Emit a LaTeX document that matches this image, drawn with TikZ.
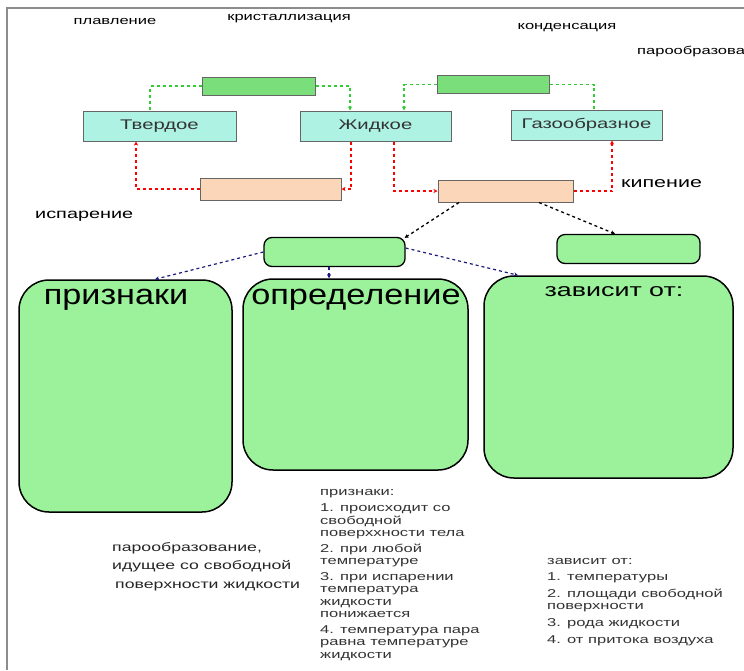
\documentclass[tikz,border=0pt]{standalone}
\usepackage{fontspec}
\setmainfont{Liberation Sans}
\newfontfamily\wide[FakeStretch=1.45]{Liberation Sans}
\newfontfamily\midwide[FakeStretch=1.2]{Liberation Sans}
\usetikzlibrary{arrows.meta}
\definecolor{topgreen}{HTML}{7ADF7A}
\definecolor{cyanbox}{HTML}{AEF2E4}
\definecolor{peach}{HTML}{FBD6B8}
\definecolor{biggreen}{HTML}{9BF29B}
\definecolor{navy}{HTML}{1A1A80}
\definecolor{framegray}{HTML}{8C8C8C}
\definecolor{gline}{HTML}{33CC33}
\tikzset{
  flat/.style={draw=gray!80!black, line width=1pt, inner sep=0pt, minimum width=#1},
  topbox/.style={flat=#1, fill=topgreen, minimum height=18pt},
  statebox/.style={flat=#1, fill=cyanbox, minimum height=30pt, font=\wide\fontsize{14}{16}\selectfont, text=black!80},
  peachbox/.style={flat=#1, fill=peach, minimum height=22pt},
  smallround/.style={draw=black, line width=1.3pt, fill=biggreen, rounded corners=8pt, inner sep=0pt, minimum width=#1, minimum height=29pt},
  biground/.style={draw=black, line width=1.5pt, fill=biggreen, rounded corners=30pt, inner sep=0pt},
  gdash/.style={draw=gline, dashed, line width=1.3pt},
  rdash/.style={draw=red, dashed, line width=1.3pt},
  kdash/.style={draw=black, dashed, line width=1.3pt},
  ndash/.style={draw=navy, dashed, line width=1.2pt},
  tip/.style={-{Stealth[length=4pt,width=4pt]}},
  lbl/.style={inner sep=0pt, font=\wide\fontsize{11.4}{13}\selectfont},
  listtxt/.style={inner sep=0pt, align=left, anchor=north west, text=black!80, font=\wide\fontsize{11.4}{12.5}\selectfont},
}
\begin{document}
\begin{tikzpicture}[x=1pt,y=-1pt]
\useasboundingbox (0,0) rectangle (744,670);
\fill[white] (0,0) rectangle (744,670);
% frame
\draw[framegray, line width=2pt] (7,670) -- (7,8) -- (744,8);
% top labels
\node[lbl] (lpl) at (115,21) {плавление};
\node[lbl] (lkr) at (289,19) {кристаллизация};
\node[lbl] (lkd) at (567,28) {конденсация};
\node[lbl, anchor=west] (lpa) at (637,51) {парообразование};
% top boxes
\node[topbox=113pt] (g1) at (258.5,86) {};
\node[topbox=112pt] (g2) at (493,84.5) {};
% state boxes
\node[statebox=153pt] (tv) at (159.5,126) {Твердое};
\node[statebox=151pt] (zh) at (375.5,126) {Жидкое};
\node[statebox=151pt] (gaz) at (586.5,125) {Газообразное};
% peach boxes
\node[peachbox=141pt] (p1) at (270.5,189) {};
\node[peachbox=135pt] (p2) at (505.5,191) {};
\node[lbl, anchor=west, font=\wide\fontsize{14.8}{16}\selectfont] (lkip) at (621,184) {кипение};
\node[lbl, anchor=west, font=\wide\fontsize{13.7}{15}\selectfont] (lisp) at (35,216) {испарение};
% green connectors
\draw[gdash] (g1.west) -| ([xshift=-9.5pt]tv.north);
\draw[gdash,tip] (g1.east) -| ([xshift=-25.5pt]zh.north);
\draw[gdash,tip] (g2.west) -| ([xshift=28.5pt]zh.north);
\draw[gdash] (g2.east) -| ([xshift=7.5pt]gaz.north);
% red connectors
\draw[rdash,tip] (p1.west) -| ([xshift=-23.5pt]tv.south);
\draw[rdash,tip] ([xshift=-24.5pt]zh.south) |- (p1.east);
\draw[rdash,tip] ([xshift=18.5pt]zh.south) |- (p2.west);
\draw[rdash,tip] (p2.east) -| ([xshift=25.5pt]gaz.south);
% small rounded boxes
\node[smallround=141pt] (s1) at (334.5,252) {};
\node[smallround=143pt] (s2) at (628.5,249) {};
% big rounded boxes
\node[biground, minimum width=213pt, minimum height=232pt] (b1) at (125.5,396) {};
\node[biground, minimum width=225pt, minimum height=191pt] (b2) at (355.5,374.5) {};
\node[biground, minimum width=249pt, minimum height=202pt] (b3) at (608.5,377) {};
\node[lbl, font=\midwide\fontsize{28.5}{30}\selectfont] (t1) at (116,300) {признаки};
\node[lbl, font=\midwide\fontsize{28.6}{30}\selectfont] (t2) at (356,300) {определение};
\node[lbl, font=\wide\fontsize{18.5}{20}\selectfont] (t3) at (614,292) {зависит от:};
% black connectors
\draw[kdash,tip] ([xshift=-46.5pt]p2.south) -- ([xshift=-1pt,yshift=-1pt]s1.north east);
\draw[kdash,tip] ([xshift=33.5pt]p2.south) -- ([xshift=-13.5pt]s2.north);
% navy connectors
\draw[ndash,tip] (s1.west) -- ([xshift=29.5pt]b1.north);
\draw[ndash,tip] ([xshift=-5.5pt]s1.south) -- ([xshift=-26.5pt]b2.north);
\draw[ndash,tip] ([yshift=4pt]s1.east) -- ([xshift=-90.5pt]b3.north);
% definition text
\node[lbl, anchor=north west, align=left, text=black!85, font=\wide\fontsize{12.2}{18.5}\selectfont] (def) at (112,542) {парообразование,\\идущее со свободной\\\hspace*{3pt}поверхности жидкости};
% signs list
\node[listtxt] (signs) at (320,489) {признаки:\\[4pt]
1. происходит со\\свободной\\поверххности тела\\[3pt]
2. при любой\\температуре\\[3pt]
3. при испарении\\температура\\жидкости\\понижается\\[3pt]
4. температура пара\\равна температуре\\жидкости};
% depends list
\node[listtxt] (dep) at (547,558) {зависит от:\\[4pt]
1. температуры\\[4pt]
2. площади свободной\\поверхности\\[4pt]
3. рода жидкости\\[5pt]
4. от притока воздуха};
\end{tikzpicture}
\end{document}
